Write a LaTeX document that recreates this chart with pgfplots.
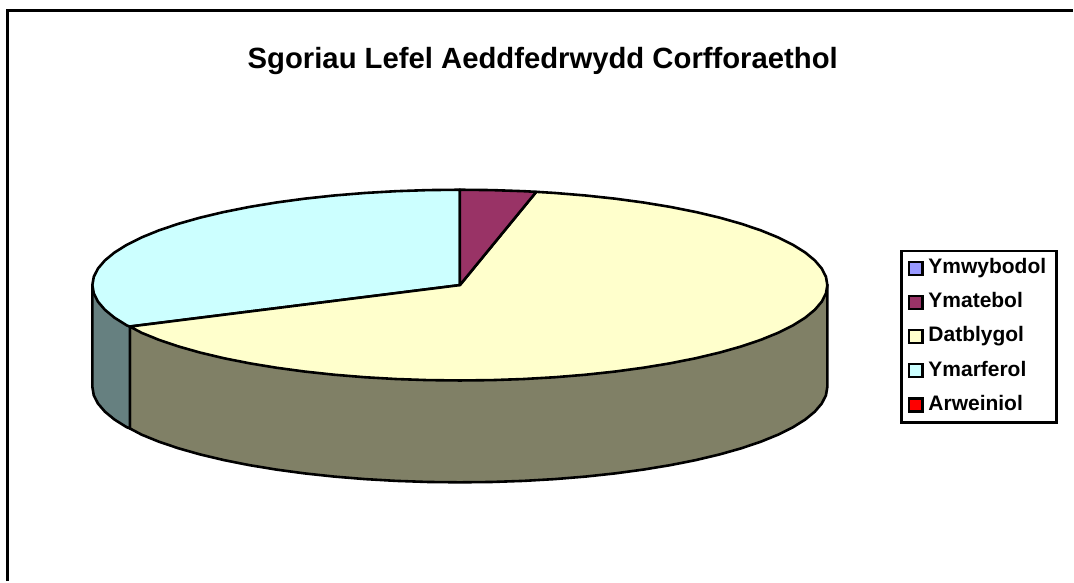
\documentclass[border=0pt]{standalone}
\usepackage{pgfplots}
\pgfplotsset{compat=1.18}
\usepackage{fontspec}
\setmainfont{Liberation Sans}
\definecolor{cA}{HTML}{9999FF}
\definecolor{cB}{HTML}{993366}
\definecolor{cC}{HTML}{FFFFCC}
\definecolor{cD}{HTML}{CCFFFF}
\definecolor{cE}{HTML}{FF0000}
\definecolor{wC}{HTML}{808066}
\definecolor{wD}{HTML}{668080}
\begin{document}
\begin{tikzpicture}
\path (0pt,0pt) rectangle (1074pt,582pt);
\begin{axis}[
  scale only axis, width=1074pt, height=582pt,
  xmin=-0.5, xmax=1073.5, ymin=-0.5, ymax=581.5, y dir=reverse,
  hide axis, clip=false,
  legend image code/.code={\draw[#1,line width=2.4pt,line join=miter] (0pt,-6.5pt) rectangle (13.5pt,6.5pt);},
  legend cell align=left,
  legend style={at={(0.8389,0.5704)},anchor=north west,draw=black,line width=2.8pt,
    font=\bfseries\fontsize{21}{21}\selectfont,
    inner xsep=6.5pt,inner ysep=7.5pt,
    /tikz/row sep=14.7pt,
    /tikz/column sep=5pt,
    nodes={inner sep=0pt,text height=15pt,text depth=4.5pt,anchor=west}},
  every axis plot/.append style={draw=black,line width=2.6pt,line join=round,forget plot},
]
% frame
\addplot[line width=3pt,line join=miter] coordinates {(7.5,581.5)(7.5,10.5)(1073.5,10.5)};
% walls
\addplot[fill=wC] coordinates {(828,285)(828,387)(826.60,395.32)(822.41,403.58)(815.46,411.72)(805.81,419.66)(793.52,427.36)(778.70,434.75)(761.45,441.78)(741.90,448.39)(720.22,454.53)(696.55,460.16)(671.08,465.23)(644,469.70)(615.52,473.55)(585.86,476.74)(555.25,479.25)(523.90,481.05)(492.07,482.14)(460,482.5)(427.93,482.14)(396.10,481.05)(364.75,479.25)(334.14,476.74)(304.48,473.55)(276,469.70)(248.92,465.23)(223.45,460.16)(199.78,454.53)(178.10,448.39)(158.55,441.78)(141.30,434.75)(129.5,428.5)(129.5,326.5)} -- cycle;
\addplot[fill=wD] coordinates {(129.5,326.5)(129.5,428.5)(126.48,427.36)(114.19,419.66)(104.54,411.72)(97.59,403.58)(93.40,395.32)(92,387)(92,285)} -- cycle;
% Ymarferol
\addplot[fill=cD] coordinates {(460,285)(129.5,326.5)(126.48,325.36)(114.19,317.66)(104.54,309.72)(97.59,301.58)(93.40,293.32)(92,285)(93.40,276.68)(97.59,268.42)(104.54,260.28)(114.19,252.34)(126.48,244.64)(141.30,237.25)(158.55,230.22)(178.10,223.61)(199.78,217.47)(223.45,211.84)(248.92,206.77)(276,202.30)(304.48,198.45)(334.14,195.26)(364.75,192.75)(396.10,190.95)(427.93,189.86)(460,189.5)} -- cycle;
% Datblygol
\addplot[fill=cC] coordinates {(460,285)(536.5,191.6)(555.25,192.75)(585.86,195.26)(615.52,198.45)(644,202.30)(671.08,206.77)(696.55,211.84)(720.22,217.47)(741.90,223.61)(761.45,230.22)(778.70,237.25)(793.52,244.64)(805.81,252.34)(815.46,260.28)(822.41,268.42)(826.60,276.68)(828,285)(826.60,293.32)(822.41,301.58)(815.46,309.72)(805.81,317.66)(793.52,325.36)(778.70,332.75)(761.45,339.78)(741.90,346.39)(720.22,352.53)(696.55,358.16)(671.08,363.23)(644,367.70)(615.52,371.55)(585.86,374.74)(555.25,377.25)(523.90,379.05)(492.07,380.14)(460,380.5)(427.93,380.14)(396.10,379.05)(364.75,377.25)(334.14,374.74)(304.48,371.55)(276,367.70)(248.92,363.23)(223.45,358.16)(199.78,352.53)(178.10,346.39)(158.55,339.78)(141.30,332.75)(129.5,326.5)} -- cycle;
% Ymatebol
\addplot[fill=cB] coordinates {(460,285)(460,189.5)(492.07,189.86)(523.90,190.95)(536.5,191.6)} -- cycle;
\addlegendimage{fill=cA,draw=black}\addlegendentry{Ymwybodol\hspace{3.7pt}\mbox{}}
\addlegendimage{fill=cB,draw=black}\addlegendentry{Ymatebol}
\addlegendimage{fill=cC,draw=black}\addlegendentry{Datblygol}
\addlegendimage{fill=cD,draw=black}\addlegendentry{Ymarferol}
\addlegendimage{fill=cE,draw=black}\addlegendentry{Arweiniol}
\node[font=\bfseries\fontsize{29.3}{29.3}\selectfont,anchor=center] at (axis cs:543,60.5) {Sgoriau Lefel Aeddfedrwydd Corfforaethol};
\end{axis}
\end{tikzpicture}
\end{document}
